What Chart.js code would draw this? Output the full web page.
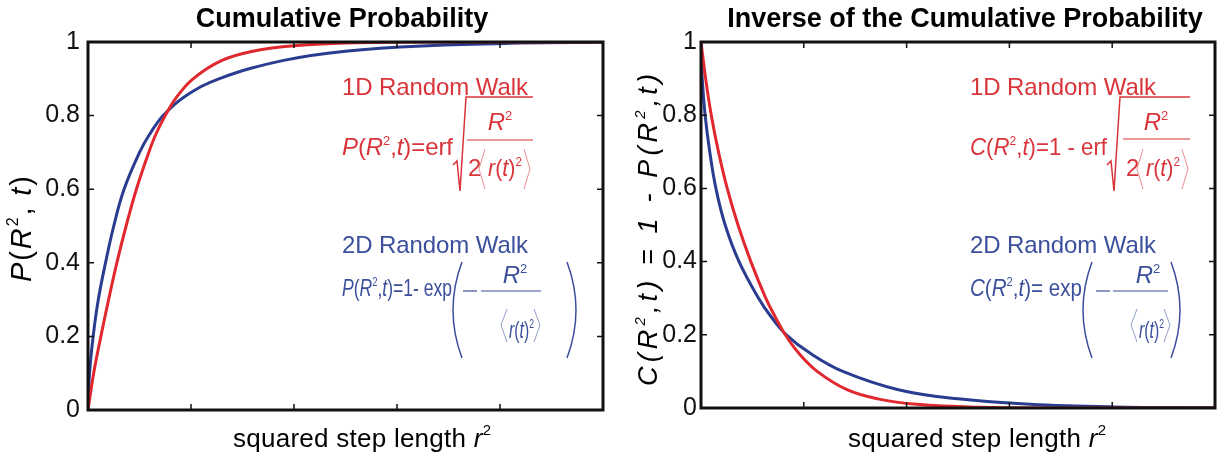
<!DOCTYPE html>
<html>
<head>
<meta charset="utf-8">
<script src="https://cdn.jsdelivr.net/npm/chart.js@4.4.1/dist/chart.umd.min.js"></script>
<style>
  body { margin: 0; background: #fff; }
  #wrap { position: relative; width: 1230px; height: 463px; }
  canvas { position: absolute; top: 0; }
  #ann { position: absolute; left: 0; top: 0; pointer-events: none; }
  .it { font-style: italic; }
</style>
</head>
<body>
<div id="wrap">
  <canvas id="cumChart" width="615" height="463" style="left:0"></canvas>
  <canvas id="invChart" width="615" height="463" style="left:615px"></canvas>

  <svg id="ann" width="1230" height="463" font-family="Liberation Sans, Arial, sans-serif">
    <!-- titles -->
    <text x="342" y="27" font-size="27" font-weight="bold" text-anchor="middle">Cumulative Probability</text>
    <text x="965" y="27" font-size="27" font-weight="bold" text-anchor="middle">Inverse of the Cumulative Probability</text>

    <!-- x axis titles -->
    <text x="233" y="447" font-size="26" textLength="258">squared step length <tspan class="it">r</tspan><tspan font-size="15" dy="-12">2</tspan></text>
    <text x="848" y="447" font-size="26" textLength="258">squared step length <tspan class="it">r</tspan><tspan font-size="15" dy="-12">2</tspan></text>

    <!-- y axis titles -->
    <text transform="translate(31,229) rotate(-90)" font-size="29" text-anchor="middle" textLength="106"><tspan class="it">P</tspan>(<tspan class="it">R</tspan><tspan font-size="16" dy="-13">2</tspan><tspan dy="13">, </tspan><tspan class="it">t</tspan>)</text>
    <text transform="translate(657,230) rotate(-90)" font-size="27" text-anchor="middle" font-style="italic" textLength="312">C(R<tspan font-size="15" dy="-12">2</tspan><tspan dy="12">,t) = 1 - P(R</tspan><tspan font-size="15" dy="-12">2</tspan><tspan dy="12">,t)</tspan></text>

    <!-- left panel, 1D -->
    <g fill="#d9343a" stroke="none" font-size="24">
      <text x="342" y="95" textLength="186">1D Random Walk</text>
      <text x="342" y="155" textLength="111"><tspan class="it">P</tspan>(<tspan class="it">R</tspan><tspan font-size="13" dy="-10">2</tspan><tspan dy="10">,</tspan><tspan class="it">t</tspan>)=erf</text>
      <text x="500" y="130" text-anchor="middle"><tspan class="it">R</tspan><tspan font-size="13" dy="-10">2</tspan></text>
      <text x="468" y="176">2</text>
      <text x="488" y="176" textLength="34" lengthAdjust="spacingAndGlyphs"><tspan class="it">r</tspan>(<tspan class="it">t</tspan>)<tspan font-size="13" dy="-10">2</tspan></text>
    </g>
    <g fill="none" stroke="#d9343a">
      <polyline points="453,165 457,161 460,191 466,97 533,97" stroke-width="1.5"/>
      <line x1="467" y1="140" x2="533" y2="140" stroke-width="1.2"/>
      <polyline points="485,149 479,169 485,189" stroke-width="1" stroke-opacity="0.55"/>
      <polyline points="524,149 530,169 524,189" stroke-width="1" stroke-opacity="0.55"/>
    </g>

    <!-- left panel, 2D -->
    <g fill="#3b4f9c" stroke="none" font-size="24">
      <text x="342" y="253" textLength="186">2D Random Walk</text>
      <text x="342" y="296" textLength="110" lengthAdjust="spacingAndGlyphs"><tspan class="it">P</tspan>(<tspan class="it">R</tspan><tspan font-size="13" dy="-10">2</tspan><tspan dy="10">,</tspan><tspan class="it">t</tspan>)=1- exp</text>
      <text x="515" y="283" text-anchor="middle"><tspan class="it">R</tspan><tspan font-size="13" dy="-10">2</tspan></text>
      <text x="509" y="338" textLength="25" lengthAdjust="spacingAndGlyphs"><tspan class="it">r</tspan>(<tspan class="it">t</tspan>)<tspan font-size="13" dy="-10">2</tspan></text>
    </g>
    <g fill="none" stroke="#3b4f9c">
      <path d="M462,262 Q444,310 462,358" stroke-width="1.5"/>
      <path d="M567,262 Q585,310 567,358" stroke-width="1.5"/>
      <line x1="463" y1="291" x2="477" y2="291" stroke-width="1.2"/>
      <line x1="481" y1="291" x2="541" y2="291" stroke-width="1.2"/>
      <polyline points="507,309 501,325 507,342" stroke-width="1" stroke-opacity="0.55"/>
      <polyline points="534,309 540,325 534,342" stroke-width="1" stroke-opacity="0.55"/>
    </g>

    <!-- right panel, 1D -->
    <g fill="#d9343a" stroke="none" font-size="24">
      <text x="970" y="95" textLength="186">1D Random Walk</text>
      <text x="970" y="155" textLength="137" lengthAdjust="spacingAndGlyphs"><tspan class="it">C</tspan>(<tspan class="it">R</tspan><tspan font-size="13" dy="-10">2</tspan><tspan dy="10">,</tspan><tspan class="it">t</tspan>)=1 - erf</text>
      <text x="1156" y="130" text-anchor="middle"><tspan class="it">R</tspan><tspan font-size="13" dy="-10">2</tspan></text>
      <text x="1126" y="176">2</text>
      <text x="1146" y="176" textLength="34" lengthAdjust="spacingAndGlyphs"><tspan class="it">r</tspan>(<tspan class="it">t</tspan>)<tspan font-size="13" dy="-10">2</tspan></text>
    </g>
    <g fill="none" stroke="#d9343a">
      <polyline points="1107,165 1111,161 1114,191 1120,97 1190,97" stroke-width="1.5"/>
      <line x1="1123" y1="139" x2="1190" y2="139" stroke-width="1.2"/>
      <polyline points="1143,149 1137,169 1143,189" stroke-width="1" stroke-opacity="0.55"/>
      <polyline points="1182,149 1188,169 1182,189" stroke-width="1" stroke-opacity="0.55"/>
    </g>

    <!-- right panel, 2D -->
    <g fill="#3b4f9c" stroke="none" font-size="24">
      <text x="970" y="253" textLength="186">2D Random Walk</text>
      <text x="970" y="296" textLength="112" lengthAdjust="spacingAndGlyphs"><tspan class="it">C</tspan>(<tspan class="it">R</tspan><tspan font-size="13" dy="-10">2</tspan><tspan dy="10">,</tspan><tspan class="it">t</tspan>)= exp</text>
      <text x="1148" y="283" text-anchor="middle"><tspan class="it">R</tspan><tspan font-size="13" dy="-10">2</tspan></text>
      <text x="1139" y="338" textLength="25" lengthAdjust="spacingAndGlyphs"><tspan class="it">r</tspan>(<tspan class="it">t</tspan>)<tspan font-size="13" dy="-10">2</tspan></text>
    </g>
    <g fill="none" stroke="#3b4f9c">
      <path d="M1092,262 Q1074,310 1092,358" stroke-width="1.5"/>
      <path d="M1171,262 Q1189,310 1171,358" stroke-width="1.5"/>
      <line x1="1096" y1="291" x2="1110" y2="291" stroke-width="1.2"/>
      <line x1="1113" y1="291" x2="1168" y2="291" stroke-width="1.2"/>
      <polyline points="1137,309 1131,325 1137,342" stroke-width="1" stroke-opacity="0.55"/>
      <polyline points="1164,309 1170,325 1164,342" stroke-width="1" stroke-opacity="0.55"/>
    </g>
  </svg>
</div>

<script>
// axes
const xTicks = [1, 2, 3, 4];
const yTickLabels = ["0", "0.2", "0.4", "0.6", "0.8", "1"];
const yInnerTicks = [0.2, 0.4, 0.6, 0.8];

// cumulative probability P(R^2,t)
const cumX1D = [0, 0.055, 0.125, 0.2, 0.28, 0.37, 0.47, 0.59, 0.66, 0.75, 0.86, 1.02, 1.3, 1.6, 2.0, 2.6, 3.5, 5.0];
const cumY1D = [0, 0.1, 0.2, 0.3, 0.4, 0.5, 0.6, 0.7, 0.75, 0.8, 0.85, 0.9, 0.95, 0.975, 0.99, 0.998, 1.0, 1.0];
const cumX2D = [0, 0.015, 0.05, 0.1, 0.17, 0.25, 0.35, 0.5, 0.6, 0.73, 0.93, 1.27, 1.9, 2.5, 3.3, 4.2, 5.0];
const cumY2D = [0, 0.1, 0.2, 0.3, 0.4, 0.5, 0.6, 0.7, 0.75, 0.8, 0.85, 0.9, 0.95, 0.975, 0.99, 0.997, 0.999];

// inverse C(R^2,t) = 1 - P
const invX1D = [0, 0.045, 0.1, 0.17, 0.255, 0.36, 0.485, 0.63, 0.72, 0.82, 0.95, 1.13, 1.42, 1.72, 2.1, 2.7, 3.5, 5.0];
const invY1D = [1, 0.9, 0.8, 0.7, 0.6, 0.5, 0.4, 0.3, 0.25, 0.2, 0.15, 0.1, 0.05, 0.025, 0.01, 0.002, 0, 0];
const invX2D = [0, 0.012, 0.04, 0.085, 0.145, 0.235, 0.37, 0.56, 0.68, 0.83, 1.06, 1.38, 1.92, 2.5, 3.2, 4.0, 5.0];
const invY2D = [1, 0.9, 0.8, 0.7, 0.6, 0.5, 0.4, 0.3, 0.25, 0.2, 0.15, 0.1, 0.05, 0.025, 0.01, 0.003, 0.001];

const red = "#e0282e";
const blue = "#2a3c8f";

const toPoints = (xs, ys) => xs.map((x, i) => ({ x: x, y: ys[i] }));

// box round the plot with inward ticks on all four sides
const framePlugin = {
  id: "frame",
  afterDraw(chart) {
    const { ctx, chartArea: a } = chart;
    const sx = chart.scales.x;
    const sy = chart.scales.y;
    ctx.save();
    ctx.strokeStyle = "#111";
    ctx.lineWidth = 1.5;
    ctx.beginPath();
    xTicks.forEach((v) => {
      const px = sx.getPixelForValue(v);
      ctx.moveTo(px, a.bottom);
      ctx.lineTo(px, a.bottom - 6);
      ctx.moveTo(px, a.top);
      ctx.lineTo(px, a.top + 6);
    });
    yInnerTicks.forEach((v) => {
      const py = sy.getPixelForValue(v);
      ctx.moveTo(a.left, py);
      ctx.lineTo(a.left + 6, py);
      ctx.moveTo(a.right, py);
      ctx.lineTo(a.right - 6, py);
    });
    ctx.stroke();
    ctx.lineWidth = 3;
    ctx.strokeRect(a.left, a.top, a.right - a.left, a.bottom - a.top);
    ctx.restore();
  },
};

const crearPanel = (id, data1D, data2D, axisWidth, labelPad, padding) => {
  const canvas = document.getElementById(id);
  return new Chart(canvas, {
    type: "line",
    data: {
      datasets: [
        { data: data1D, borderColor: red, borderWidth: 3, pointRadius: 0, tension: 0.4, fill: false },
        { data: data2D, borderColor: blue, borderWidth: 3, pointRadius: 0, tension: 0.4, fill: false },
      ],
    },
    options: {
      responsive: false,
      animation: false,
      layout: { padding: padding },
      plugins: { legend: { display: false }, tooltip: { enabled: false } },
      scales: {
        x: { type: "linear", min: 0, max: 5, display: false },
        y: {
          type: "linear",
          min: 0,
          max: 1,
          grid: { display: false, drawTicks: false },
          border: { display: false },
          ticks: {
            stepSize: 0.2,
            padding: labelPad,
            color: "#111",
            font: { family: "Liberation Sans", size: 25 },
            callback: (v, i) => yTickLabels[i],
          },
          afterFit: (scale) => {
            scale.width = axisWidth;
          },
        },
      },
    },
    plugins: [framePlugin],
  });
};

crearPanel("cumChart", toPoints(cumX1D, cumY1D), toPoints(cumX2D, cumY2D), 88, 8, { top: 42, right: 12, bottom: 53, left: 0 });
crearPanel("invChart", toPoints(invX1D, invY1D), toPoints(invX2D, invY2D), 86, 4, { top: 42, right: 15, bottom: 55, left: 0 });
</script>
</body>
</html>
